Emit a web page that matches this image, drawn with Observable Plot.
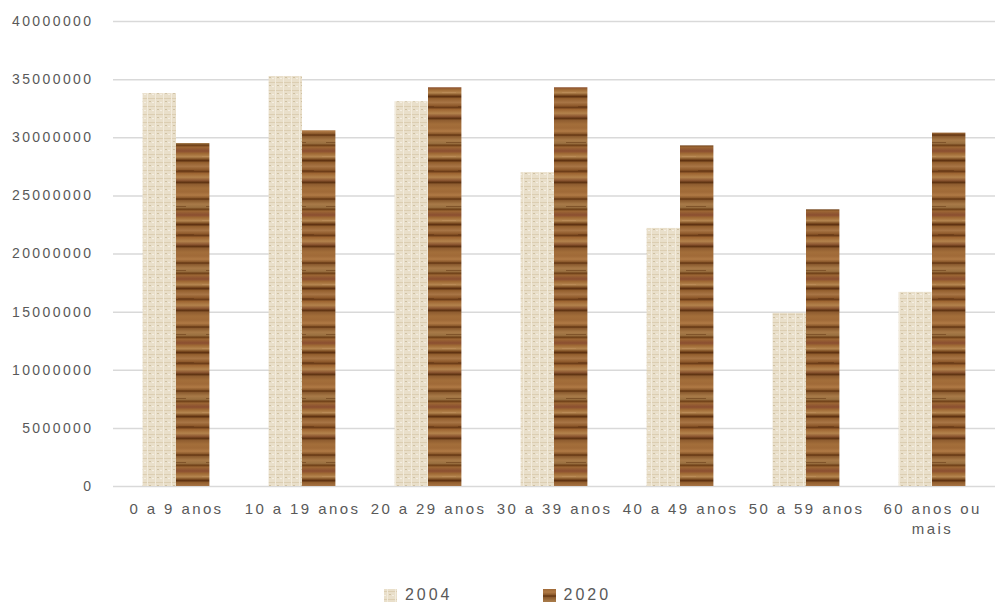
<!DOCTYPE html>
<html>
<head>
<meta charset="utf-8">
<script src="https://cdn.jsdelivr.net/npm/d3@7"></script>
<script src="https://cdn.jsdelivr.net/npm/@observablehq/plot@0.6"></script>
<style>
  html, body { margin: 0; padding: 0; background: #fff; }
  #chart svg text { letter-spacing: 2.4px; }
  #legend { display: flex; justify-content: center; gap: 0; font-family: "Liberation Sans", sans-serif; font-size: 16px; color: #595959; letter-spacing: 3px; height: 30px; align-items: center; margin-top: 20px; }
  #legend .item { display: flex; align-items: center; }
  #legend .item svg { margin-right: 8px; }
</style>
</head>
<body>
<div id="chart"></div>
<div id="legend"></div>
<script>
const categories = ["0 a 9 anos", "10 a 19 anos", "20 a 29 anos", "30 a 39 anos", "40 a 49 anos", "50 a 59 anos", "60 anos ou mais"];
const years = ["2004", "2020"];
const values2004 = [33800000, 35270000, 33100000, 27000000, 22200000, 14900000, 16700000];
const values2020 = [29500000, 30600000, 34300000, 34300000, 29300000, 23800000, 30400000];
const yTicks = [0, 5000000, 10000000, 15000000, 20000000, 25000000, 30000000, 35000000, 40000000];

const rows2004 = categories.map((c, i) => ({category: c, year: years[0], value: values2004[i]}));
const rows2020 = categories.map((c, i) => ({category: c, year: years[1], value: values2020[i]}));

const half = (995 - 113) / 7 * (1 - 0.47) / 2;

const chart = Plot.plot({
  width: 995,
  height: 560,
  marginLeft: 113,
  marginRight: 0,
  marginTop: 21,
  marginBottom: 74,
  style: {fontFamily: "Liberation Sans, sans-serif", fontSize: "14px", color: "#595959", background: "#fff"},
  x: {domain: categories, paddingInner: 0.47, paddingOuter: 0.235, round: false},
  y: {domain: [0, 40000000]},
  marks: [
    Plot.gridY(yTicks, {stroke: "#d9d9d9", strokeOpacity: 1, strokeWidth: 1.5}),
    Plot.barY(rows2004, {x: "category", y: "value", fill: "url(#linen)", insetRight: half, insetLeft: 0}),
    Plot.barY(rows2020, {x: "category", y: "value", fill: "url(#wood)", insetLeft: half, insetRight: 0}),
    Plot.axisY(yTicks, {tickSize: 0, tickPadding: 20, label: null, fontSize: 14, tickFormat: d3.format("d")}),
    Plot.axisX({tickSize: 0, tickPadding: 14, label: null, fontSize: 15, lineHeight: 1.3, tickFormat: d => d.replace(" ou ", " ou\n")})
  ]
});

// textures (styling only)
const svg = d3.select(chart);
const defs = svg.insert("defs", ":first-child");
const woodGrad = defs.append("linearGradient").attr("id", "woodgrad").attr("x1", 0).attr("y1", 0).attr("x2", 0).attr("y2", 1);
const woodStops = [
  [0, "#a06a38"], [0.05, "#b07a45"], [0.09, "#8c5a2c"], [0.11, "#5e3210"], [0.13, "#8a5a2e"],
  [0.19, "#a87a48"], [0.24, "#9a7040"], [0.27, "#6e4018"], [0.30, "#9c6634"], [0.36, "#8a4e30"],
  [0.40, "#a06a35"], [0.45, "#b58650"], [0.49, "#7a4a20"], [0.51, "#5c3010"], [0.54, "#94602f"],
  [0.60, "#a87545"], [0.65, "#8f5a2c"], [0.68, "#6d3d18"], [0.71, "#9e6632"], [0.77, "#b3824c"],
  [0.82, "#8a5530"], [0.85, "#5e3212"], [0.88, "#8f5d30"], [0.94, "#a36e3a"], [1, "#a06a38"]
];
woodStops.forEach(([o, c]) => woodGrad.append("stop").attr("offset", o).attr("stop-color", c));
const wood = defs.append("pattern").attr("id", "wood").attr("patternUnits", "userSpaceOnUse").attr("width", 40).attr("height", 64);
wood.append("rect").attr("width", 40).attr("height", 64).attr("fill", "url(#woodgrad)");
wood.append("rect").attr("x", 6).attr("y", 14).attr("width", 20).attr("height", 1).attr("fill", "#5a2e0e").attr("opacity", 0.45);
wood.append("rect").attr("x", 18).attr("y", 42).attr("width", 16).attr("height", 1).attr("fill", "#5a2e0e").attr("opacity", 0.4);
wood.append("rect").attr("x", 2).attr("y", 28).attr("width", 14).attr("height", 1).attr("fill", "#c19260").attr("opacity", 0.5);

const linen = defs.append("pattern").attr("id", "linen").attr("patternUnits", "userSpaceOnUse").attr("width", 8).attr("height", 8);
linen.append("rect").attr("width", 8).attr("height", 8).attr("fill", "#e9dfca");
linen.append("rect").attr("x", 0).attr("y", 2).attr("width", 8).attr("height", 1).attr("fill", "#dcceb2");
linen.append("rect").attr("x", 3).attr("y", 0).attr("width", 1).attr("height", 8).attr("fill", "#f2ebdc");
linen.append("rect").attr("x", 5).attr("y", 5).attr("width", 2).attr("height", 1).attr("fill", "#cfc1a3");
linen.append("rect").attr("x", 0).attr("y", 6).attr("width", 2).attr("height", 1).attr("fill", "#f4eee2");

document.getElementById("chart").appendChild(chart);

// legend
const legend = d3.select("#legend");
[["2004", "linen", "0 90px 0 0"], ["2020", "wood", "0"]].forEach(([label, pat, m]) => {
  const item = legend.append("div").attr("class", "item").style("margin", m);
  item.append("svg").attr("width", 13).attr("height", 13)
    .append("rect").attr("width", 13).attr("height", 13).attr("fill", `url(#${pat})`);
  item.append("span").text(label);
});
</script>
</body>
</html>
